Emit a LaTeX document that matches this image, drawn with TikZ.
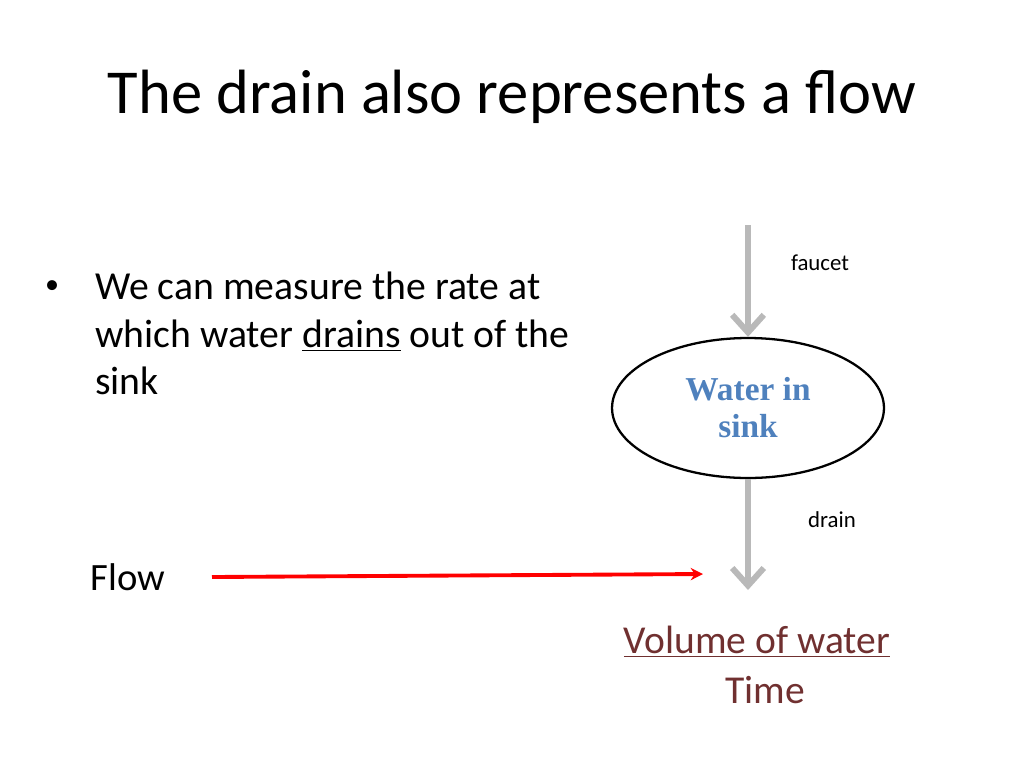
\documentclass[tikz,border=0pt]{standalone}
\usepackage{fontspec}
\setmainfont{Carlito}
\newfontfamily\serifbold{Liberation Serif}
\usepackage{tikz}
\usetikzlibrary{arrows.meta,shapes.geometric}
\definecolor{stockblue}{RGB}{79,129,189}
\definecolor{flowred}{RGB}{112,48,48}
\tikzset{
  pipe/.style={draw=gray!55, line width=3.4pt, -{Straight Barb[length=10pt,width=18pt]}},
  small/.style={font=\fontsize{13}{15}\selectfont},
  body/.style={font=\fontsize{22.6}{27}\selectfont, align=left}
}
\begin{document}
\begin{tikzpicture}[x=0.02cm,y=-0.02cm]
            \useasboundingbox (0,0) rectangle (1024,768);
            % Title
            \node (title) at (512,97) {\fontsize{35.6}{40}\selectfont The drain also represents a flow};

            % Bullet text
            \node[font=\fontsize{16}{20}\selectfont] (dot) at (52,287) {\textbullet};
            \node[body, anchor=north west] (text) at (89,266) {We can measure the rate at\\which water \underline{drains} out of the\\sink};

            % Stock and pipes
            \node[draw, ellipse, line width=1.3pt, minimum width=5.44cm, minimum height=2.8cm, align=center,
                  text=stockblue, font=\serifbold\bfseries\fontsize{19}{21}\selectfont] (sink) at (748,408) {Water in\\sink};
            \coordinate (top) at (748,225);
            \coordinate (bottom) at (748,590);
            \draw[pipe] (top) -- (sink.north);
            \draw[pipe] (sink.south) -- (bottom);
            \node[small] (faucet) at (820,263) {faucet};
            \node[small] (drain) at (832,520) {drain};

            % Flow arrow
            \node[font=\fontsize{22}{24}\selectfont] (flow) at (128,577) {Flow};
            \coordinate (flowend) at (703,574);
            \draw[red, line width=2.2pt, -{Stealth[length=7pt,width=7pt]}] (212,577) -- (flowend);

            % Units
            \node[text=flowred, font=\fontsize{22.5}{24}\selectfont] (vol) at (757,642) {\underline{Volume of water}};
            \node[text=flowred, font=\fontsize{22.5}{24}\selectfont] (time) at (765,690) {Time};
\end{tikzpicture}
\end{document}
